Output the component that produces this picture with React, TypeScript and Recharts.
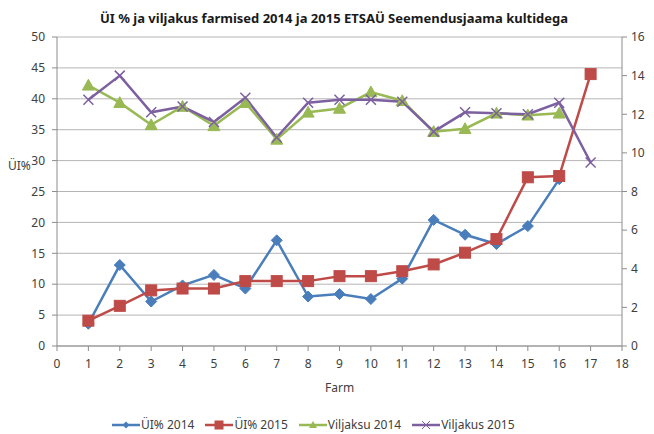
import React from 'react';
import { LineChart, Line, XAxis, YAxis, CartesianGrid } from 'recharts';

const farms = [1, 2, 3, 4, 5, 6, 7, 8, 9, 10, 11, 12, 13, 14, 15, 16, 17];
const ui2014 = [3.6, 13.1, 7.2, 9.8, 11.5, 9.3, 17.1, 8.0, 8.4, 7.6, 10.9, 20.4, 18.0, 16.5, 19.4, 27.0, null];
const ui2015 = [4.1, 6.5, 9.0, 9.3, 9.3, 10.5, 10.5, 10.5, 11.3, 11.3, 12.1, 13.2, 15.1, 17.3, 27.3, 27.5, 44.0];
const vilj2014 = [13.5, 12.6, 11.45, 12.4, 11.4, 12.6, 10.7, 12.1, 12.3, 13.15, 12.7, 11.1, 11.25, 12.05, 11.95, 12.05, null];
const vilj2015 = [12.75, 14.0, 12.1, 12.4, 11.6, 12.85, 10.8, 12.6, 12.75, 12.75, 12.65, 11.1, 12.1, 12.05, 12.0, 12.6, 9.5];

const xTicks = [0, 1, 2, 3, 4, 5, 6, 7, 8, 9, 10, 11, 12, 13, 14, 15, 16, 17, 18];
const leftTicks = [0, 5, 10, 15, 20, 25, 30, 35, 40, 45, 50];
const rightTicks = [0, 2, 4, 6, 8, 10, 12, 14, 16];

const data = farms.map((f, i) => ({
  farm: f,
  ui2014: ui2014[i],
  ui2015: ui2015[i],
  vilj2014: vilj2014[i],
  vilj2015: vilj2015[i],
}));

const BLUE = '#4A7EBB';
const RED = '#BE4B48';
const GREEN = '#98B954';
const PURPLE = '#7D60A0';
const FONT = '"Noto Sans", "Open Sans", sans-serif';

const Diamond = (props: any) => {
  const { cx, cy, value } = props;
  if (value == null || cx == null || cy == null) return null;
  const s = 5.5;
  return <path d={`M${cx},${cy - s}L${cx + s},${cy}L${cx},${cy + s}L${cx - s},${cy}Z`} fill={BLUE} stroke={BLUE} strokeWidth={1} />;
};
const Square = (props: any) => {
  const { cx, cy, value } = props;
  if (value == null || cx == null || cy == null) return null;
  const s = 5.5;
  return <rect x={cx - s} y={cy - s} width={2 * s} height={2 * s} fill={RED} stroke={RED} strokeWidth={1} />;
};
const Triangle = (props: any) => {
  const { cx, cy, value } = props;
  if (value == null || cx == null || cy == null) return null;
  const s = 6;
  return <path d={`M${cx},${cy - s}L${cx + s},${cy + s * 0.8}L${cx - s},${cy + s * 0.8}Z`} fill={GREEN} stroke={GREEN} strokeWidth={1} />;
};
const Cross = (props: any) => {
  const { cx, cy, value } = props;
  if (value == null || cx == null || cy == null) return null;
  const s = 5;
  return <path d={`M${cx - s},${cy - s}L${cx + s},${cy + s}M${cx - s},${cy + s}L${cx + s},${cy - s}`} stroke={PURPLE} strokeWidth={1.5} fill="none" />;
};

const legendItems = [
  { label: 'ÜI% 2014', color: BLUE, marker: 'diamond' },
  { label: 'ÜI% 2015', color: RED, marker: 'square' },
  { label: 'Viljaksu 2014', color: GREEN, marker: 'triangle' },
  { label: 'Viljakus 2015', color: PURPLE, marker: 'cross' },
];

const LegendMarker = ({ color, marker }: { color: string; marker: string }) => {
  const cx = 14, cy = 6;
  let m: React.ReactNode = null;
  if (marker === 'diamond') m = <path d={`M${cx},${cy - 3.5}L${cx + 3.5},${cy}L${cx},${cy + 3.5}L${cx - 3.5},${cy}Z`} fill={color} />;
  if (marker === 'square') m = <rect x={cx - 4.5} y={cy - 4.5} width={9} height={9} fill={color} />;
  if (marker === 'triangle') m = <path d={`M${cx},${cy - 4}L${cx + 4},${cy + 3}L${cx - 4},${cy + 3}Z`} fill={color} />;
  if (marker === 'cross') m = <path d={`M${cx - 4},${cy - 4}L${cx + 4},${cy + 4}M${cx - 4},${cy + 4}L${cx + 4},${cy - 4}`} stroke={color} strokeWidth={1} />;
  return (
    <svg width={28} height={12} style={{ display: 'block' }}>
      <line x1={0} y1={cy} x2={28} y2={cy} stroke={color} strokeWidth={2.5} />
      {m}
    </svg>
  );
};

export default function App() {
  return (
    <div style={{ position: 'absolute', left: 0, top: 0, width: 654, height: 434, background: '#fff', fontFamily: FONT }}>
      <LineChart width={654} height={434} data={data} margin={{ top: 37, right: 0, bottom: 0, left: 0 }}>
        <CartesianGrid yAxisId="left" vertical={false} stroke="#b5b5b5" strokeWidth={1} />
        <XAxis
          dataKey="farm"
          type="number"
          domain={[0, 18]}
          ticks={xTicks}
          interval={0}
          height={88}
          tickSize={5}
          tickMargin={8}
          stroke="#8c8c8c"
          tick={{ fill: '#404040', fontSize: 12, fontFamily: FONT }}
        />
        <YAxis
          yAxisId="left"
          domain={[0, 50]}
          ticks={leftTicks}
          interval={0}
          width={57}
          tickSize={5}
          tickMargin={7}
          stroke="#8c8c8c"
          tick={{ fill: '#404040', fontSize: 12, fontFamily: FONT }}
        />
        <YAxis
          yAxisId="right"
          orientation="right"
          domain={[0, 16]}
          ticks={rightTicks}
          interval={0}
          width={32}
          tickSize={5}
          tickMargin={4}
          stroke="#8c8c8c"
          tick={{ fill: '#404040', fontSize: 12, fontFamily: FONT }}
        />
        <Line yAxisId="left" type="linear" dataKey="ui2014" stroke={BLUE} strokeWidth={2.5} dot={<Diamond />} activeDot={false} isAnimationActive={false} />
        <Line yAxisId="left" type="linear" dataKey="ui2015" stroke={RED} strokeWidth={2.5} dot={<Square />} activeDot={false} isAnimationActive={false} />
        <Line yAxisId="right" type="linear" dataKey="vilj2014" stroke={GREEN} strokeWidth={2.5} dot={<Triangle />} activeDot={false} isAnimationActive={false} />
        <Line yAxisId="right" type="linear" dataKey="vilj2015" stroke={PURPLE} strokeWidth={2.5} dot={<Cross />} activeDot={false} isAnimationActive={false} />
      </LineChart>
      <div style={{ position: 'absolute', left: 0, top: 9, width: 668, textAlign: 'center', fontSize: 13, fontWeight: 'bold', color: '#1a1a1a', whiteSpace: 'nowrap' }}>
        ÜI % ja viljakus farmised 2014 ja 2015 ETSAÜ Seemendusjaama kultidega
      </div>
      <div style={{ position: 'absolute', left: 8, top: 157, fontSize: 12, color: '#404040' }}>ÜI%</div>
      <div style={{ position: 'absolute', left: 325, top: 379, fontSize: 12, color: '#404040' }}>Farm</div>
      <div style={{ position: 'absolute', left: 112, top: 416, display: 'flex', alignItems: 'center', fontSize: 12, color: '#404040', whiteSpace: 'nowrap' }}>
        {legendItems.map((it, i) => (
          <div key={i} style={{ display: 'flex', alignItems: 'center', marginRight: 11 }}>
            <LegendMarker color={it.color} marker={it.marker} />
            <span style={{ marginLeft: 1 }}>{it.label}</span>
          </div>
        ))}
      </div>
    </div>
  );
}
